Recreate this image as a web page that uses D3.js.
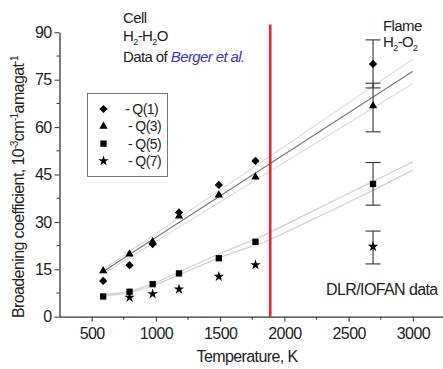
<!DOCTYPE html>
<html>
<head>
<meta charset="utf-8">
<script src="https://cdn.jsdelivr.net/npm/d3@7"></script>
<style>
  body { margin: 0; background: #fff; }
  svg { display: block; font-family: "Liberation Sans", Arial, sans-serif; }
  svg text { letter-spacing: -0.6px; }
</style>
</head>
<body>
<svg id="chart" width="443" height="369"></svg>
<script>
'use strict';

// cell data (Berger et al.)
var temps = [590, 795, 975, 1180, 1490, 1775];
var q1 = [11.3, 16.3, 23.0, 33.0, 41.7, 49.3];
var q3 = [14.5, 19.8, 23.7, 31.8, 38.5, 44.2];
var q5 = [6.4, 7.9, 10.3, 13.7, 18.5, 23.7];
var q7Temps = [795, 975, 1180, 1490, 1775];
var q7 = [6.1, 7.2, 8.7, 12.7, 16.4];

// flame data (DLR/IOFAN)
var flameTemp = 2690;
var flameVals = [80.0, 66.7, 42.0, 22.2];
var flameLow = [72.4, 58.5, 35.3, 16.7];
var flameHigh = [87.6, 73.9, 48.8, 27.1];

// fitted lines
var fitTemps = [590, 3000];
var fitMain = [14.3, 77.7];
var fitAbove = [15.0, 81.5];
var fitBelow = [13.6, 73.8];
var lowTemps = [590, 800, 1000, 1200, 1500, 1850, 2200, 2600, 3000];
var lowA = [7.0, 8.1, 10.9, 14.5, 20.0, 26.0, 33.0, 41.0, 49.0];
var lowB = [6.6, 7.6, 10.2, 13.6, 18.8, 23.8, 30.4, 38.2, 46.4];

var boundaryTemp = 1890;
var boundaryTop = 92.5;

var xTicks = [500, 1000, 1500, 2000, 2500, 3000];
var xMinor = [750, 1250, 1750, 2250, 2750];
var yTicks = [0, 15, 30, 45, 60, 75, 90];
var yMinor = [7.5, 22.5, 37.5, 52.5, 67.5, 82.5];

var legendNames = ['Q(1)', 'Q(3)', 'Q(5)', 'Q(7)'];

var svg = d3.select('#chart');

var x = d3.scaleLinear().domain([250, 3250]).range([59.5, 445]);
var y = d3.scaleLinear().domain([0, 90]).range([316.7, 32.3]);

var symbols = [
    d3.symbol().type(d3.symbolSquare).size(34),
    d3.symbol().type(d3.symbolTriangle).size(30),
    d3.symbol().type(d3.symbolSquare).size(40),
    d3.symbol().type(d3.symbolStar).size(34)
];
var rotations = [45, 0, 0, 0];

// fits
var line = d3.line()
    .x(function(d) { return x(d[0]); })
    .y(function(d) { return y(d[1]); });
var curve = d3.line()
    .curve(d3.curveMonotoneX)
    .x(function(d) { return x(d[0]); })
    .y(function(d) { return y(d[1]); });

[fitAbove, fitBelow].forEach(function(vals) {
    svg.append('path')
        .datum(d3.zip(fitTemps, vals))
        .attr('d', line)
        .attr('fill', 'none')
        .attr('stroke', '#d2d2d2')
        .attr('stroke-width', 1);
});
[lowA, lowB].forEach(function(vals) {
    svg.append('path')
        .datum(d3.zip(lowTemps, vals))
        .attr('d', curve)
        .attr('fill', 'none')
        .attr('stroke', '#d0d0d0')
        .attr('stroke-width', 1.3);
});
svg.append('path')
    .datum(d3.zip(fitTemps, fitMain))
    .attr('d', line)
    .attr('fill', 'none')
    .attr('stroke', '#7a7a7a')
    .attr('stroke-width', 1.2);

// axes
var xAxis = svg.append('g')
    .attr('transform', 'translate(0,' + y(0) + ')')
    .call(d3.axisBottom(x).tickValues(xTicks).tickFormat(d3.format('d'))
        .tickSize(5).tickSizeOuter(0).tickPadding(6));
xAxis.select('.domain').attr('stroke', '#333').attr('stroke-width', 1.3);
xAxis.selectAll('.tick line').attr('stroke', '#333');
xAxis.selectAll('text').attr('font-size', 16).attr('fill', '#222').attr('font-family', null);
xAxis.selectAll('.minor')
    .data(xMinor)
    .enter().append('line')
    .attr('x1', function(d) { return x(d); })
    .attr('x2', function(d) { return x(d); })
    .attr('y1', 0).attr('y2', 3)
    .attr('stroke', '#333');

var yAxis = svg.append('g')
    .attr('transform', 'translate(' + x(250) + ',0)')
    .call(d3.axisLeft(y).tickValues(yTicks).tickSize(5).tickSizeOuter(0).tickPadding(3));
yAxis.select('.domain').attr('stroke', '#333').attr('stroke-width', 1.3);
yAxis.selectAll('.tick line').attr('stroke', '#333');
yAxis.selectAll('text').attr('font-size', 16).attr('fill', '#222').attr('font-family', null);
yAxis.selectAll('.minor')
    .data(yMinor)
    .enter().append('line')
    .attr('x1', -3).attr('x2', 0)
    .attr('y1', function(d) { return y(d); })
    .attr('y2', function(d) { return y(d); })
    .attr('stroke', '#333');

// axis titles
svg.append('text')
    .attr('x', 247).attr('y', 362)
    .attr('text-anchor', 'middle')
    .attr('font-size', 16).attr('fill', '#222')
    .text('Temperature, K');

var ylab = svg.append('text')
    .attr('transform', 'translate(24,187) rotate(-90)')
    .attr('text-anchor', 'middle')
    .attr('font-size', 16).attr('fill', '#222');
ylab.append('tspan').text('Broadening coefficient, 10');
ylab.append('tspan').attr('dy', -6).attr('font-size', 10).text('-3');
ylab.append('tspan').attr('dy', 6).text('cm');
ylab.append('tspan').attr('dy', -6).attr('font-size', 10).text('-1');
ylab.append('tspan').attr('dy', 6).text('amagat');
ylab.append('tspan').attr('dy', -6).attr('font-size', 10).text('-1');

// boundary line
svg.append('line')
    .attr('x1', x(boundaryTemp)).attr('x2', x(boundaryTemp))
    .attr('y1', y(boundaryTop)).attr('y2', y(0))
    .attr('stroke', '#e3262d')
    .attr('stroke-width', 2.6);

// error bars
flameVals.forEach(function(v, i) {
    var g = svg.append('g').attr('stroke', '#333').attr('stroke-width', 1.1);
    g.append('line')
        .attr('x1', x(flameTemp)).attr('x2', x(flameTemp))
        .attr('y1', y(flameLow[i])).attr('y2', y(flameHigh[i]));
    [flameLow[i], flameHigh[i]].forEach(function(e) {
        g.append('line')
            .attr('x1', x(flameTemp) - 7.5).attr('x2', x(flameTemp) + 7.5)
            .attr('y1', y(e)).attr('y2', y(e));
    });
});

// points
var series = [
    d3.zip(temps, q1),
    d3.zip(temps, q3),
    d3.zip(temps, q5),
    d3.zip(q7Temps, q7)
];
series.forEach(function(pts, i) {
    pts = pts.concat([[flameTemp, flameVals[i]]]);
    svg.selectAll('.s' + i)
        .data(pts)
        .enter().append('path')
        .attr('class', 's' + i)
        .attr('d', symbols[i])
        .attr('transform', function(d) {
            return 'translate(' + x(d[0]) + ',' + y(d[1]) + ') rotate(' + rotations[i] + ')';
        })
        .attr('fill', '#000');
});

// legend
svg.append('rect')
    .attr('x', 87.5).attr('y', 93.5)
    .attr('width', 80).attr('height', 83)
    .attr('fill', 'none')
    .attr('stroke', '#777')
    .attr('stroke-width', 1);
legendNames.forEach(function(name, i) {
    var ly = 109 + i * 17.3;
    svg.append('path')
        .attr('d', symbols[i])
        .attr('transform', 'translate(103.5,' + ly + ') rotate(' + rotations[i] + ')')
        .attr('fill', '#000');
    svg.append('text')
        .attr('x', i === 0 ? 125 : 128).attr('y', ly + 5)
        .attr('font-size', 14).attr('fill', '#222')
        .text('- ' + name);
});

// annotations
function addText(xp, yp, size) {
    return svg.append('text').attr('x', xp).attr('y', yp)
        .attr('font-size', size).attr('fill', '#222');
}
addText(123, 23, 15).text('Cell');
var hh = addText(123, 40.7, 15);
hh.append('tspan').text('H');
hh.append('tspan').attr('dy', 4).attr('font-size', 9).text('2');
hh.append('tspan').attr('dy', -4).text('-H');
hh.append('tspan').attr('dy', 4).attr('font-size', 9).text('2');
hh.append('tspan').attr('dy', -4).text('O');
var dat = addText(123, 61.5, 15);
dat.append('tspan').text('Data of ');
dat.append('tspan').attr('font-style', 'italic').attr('fill', '#3535c8').text('Berger et al.');

addText(383, 30.7, 15).text('Flame');
var ho = addText(383, 46.5, 15);
ho.append('tspan').text('H');
ho.append('tspan').attr('dy', 4).attr('font-size', 9).text('2');
ho.append('tspan').attr('dy', -4).text('-O');
ho.append('tspan').attr('dy', 4).attr('font-size', 9).text('2');

addText(326, 294.5, 16).text('DLR/IOFAN data');
</script>
</body>
</html>
